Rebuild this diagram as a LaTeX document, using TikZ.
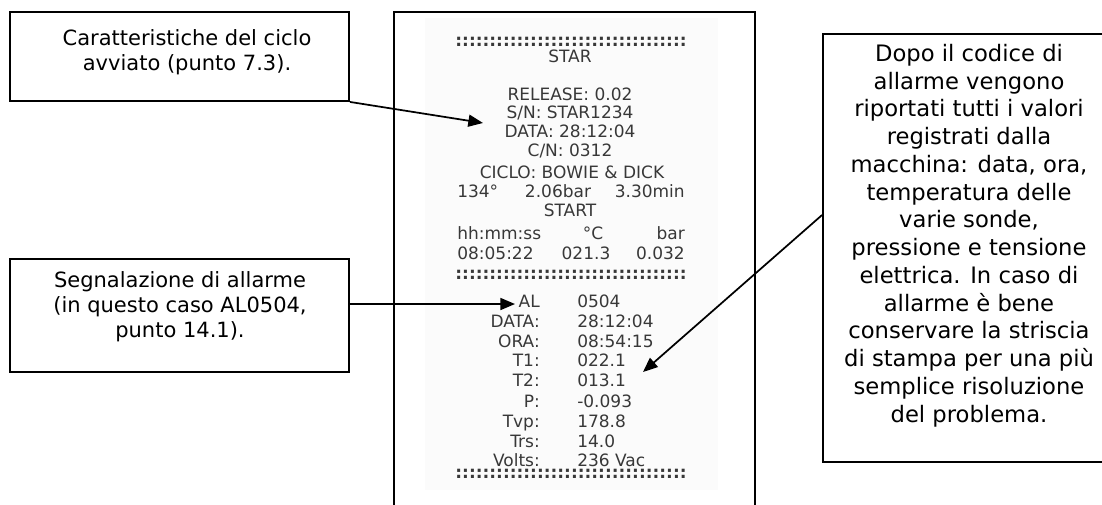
\documentclass[tikz,border=0pt]{standalone}
\usepackage{fontspec}
\setmainfont{DejaVu Sans}
\usetikzlibrary{arrows.meta}
\newcommand\rcdotrow{\bfseries::::::::::::::::::::::::::::::::::}
\begin{document}
\begin{tikzpicture}[x=0.75pt,y=-0.75pt,
  callout/.style={draw=black, line width=1.4pt, inner sep=0pt},
  calltext/.style={align=center, inner sep=0pt, font=\fontsize{15.75}{18.75}\selectfont},
  bigtext/.style={align=center, inner sep=0pt, font=\fontsize{17}{20.8}\selectfont},
  rc/.style={inner sep=0pt, text height=0.73em, text depth=0pt, text=black!78, font=\fontsize{12.75}{15}\selectfont},
  pointer/.style={line width=1.3pt, -{Triangle[length=11pt,width=9pt]}}]
\useasboundingbox (0,0) rectangle (1102,504);
\fill[white] (0,0) rectangle (1102,504);
% receipt
\fill[black!1.5] (425,18) rectangle (718,490);
\node[callout, minimum width=270.75pt, minimum height=388.5pt] (slip) at (574.5,271) {};
\node[rc] (d1) at (571,42) {\rcdotrow};
\node[rc] (r1) at (570,58) {STAR};
\node[rc] (r2) at (570,96) {RELEASE: 0.02};
\node[rc] (r3) at (570,114) {S/N: STAR1234};
\node[rc] (r4) at (570,133) {DATA: 28:12:04};
\node[rc] (r5) at (570,152) {C/N: 0312};
\node[rc] (r6) at (572,174) {CICLO: BOWIE \& DICK};
\node[rc, anchor=west] (r7a) at (457,193) {134°};
\node[rc] (r7b) at (558,193) {2.06bar};
\node[rc, anchor=east] (r7c) at (685,193) {3.30min};
\node[rc] (r8) at (570,212) {START};
\node[rc, anchor=west] (r9a) at (457,235) {hh:mm:ss};
\node[rc] (r9b) at (593,235) {°C};
\node[rc, anchor=east] (r9c) at (685,235) {bar};
\node[rc, anchor=west] (r10a) at (457,255) {08:05:22};
\node[rc] (r10b) at (586,255) {021.3};
\node[rc, anchor=east] (r10c) at (685,255) {0.032};
\node[rc] (d2) at (571,275) {\rcdotrow};
\node[rc, anchor=east] (l1) at (540,303) {AL};
\node[rc, anchor=west] (v1) at (577,303) {0504};
\node[rc, anchor=east] (l2) at (540,323) {DATA:};
\node[rc, anchor=west] (v2) at (577,323) {28:12:04};
\node[rc, anchor=east] (l3) at (540,343) {ORA:};
\node[rc, anchor=west] (v3) at (577,343) {08:54:15};
\node[rc, anchor=east] (l4) at (540,362) {T1:};
\node[rc, anchor=west] (v4) at (577,362) {022.1};
\node[rc, anchor=east] (l5) at (540,382) {T2:};
\node[rc, anchor=west] (v5) at (577,382) {013.1};
\node[rc, anchor=east] (l6) at (540,403) {P:};
\node[rc, anchor=west] (v6) at (577,403) {-0.093};
\node[rc, anchor=east] (l7) at (540,423) {Tvp:};
\node[rc, anchor=west] (v7) at (577,423) {178.8};
\node[rc, anchor=east] (l8) at (540,443) {Trs:};
\node[rc, anchor=west] (v8) at (577,443) {14.0};
\node[rc, anchor=east] (l9) at (540,462) {Volts:};
\node[rc, anchor=west] (v9) at (577,462) {236 Vac};
\node[rc] (d3) at (571,474) {\rcdotrow};
% callouts
\node[callout, minimum width=254.25pt, minimum height=66.75pt] (box1) at (179.5,56.5) {};
\node[calltext] (t1) at (187,52.5) {Caratteristiche del ciclo\\avviato (punto 7.3).};
\node[callout, minimum width=254.25pt, minimum height=84.75pt] (box2) at (179.5,315.5) {};
\node[calltext] (t2) at (180,306.5) {Segnalazione di allarme\\(in questo caso AL0504,\\punto 14.1).};
\node[callout, minimum width=219pt, minimum height=321pt] (box3) at (969,248) {};
\node[bigtext] (t3) at (969,235.5) {Dopo il codice di\\allarme vengono\\riportati tutti i valori\\registrati dalla\\macchina: data, ora,\\temperatura delle\\varie sonde,\\pressione e tensione\\elettrica. In caso di\\allarme è bene\\conservare la striscia\\di stampa per una più\\semplice risoluzione\\del problema.};
% pointers
\coordinate (tip1) at (483,123);
\draw[pointer] (box1.south east) -- (tip1);
\coordinate (tip2) at (515,304);
\draw[pointer] (box2.east |- tip2) -- (tip2);
\coordinate (tip3) at (643,372);
\draw[pointer] ([yshift=24.75pt]box3.west) -- (tip3);
\end{tikzpicture}
\end{document}
